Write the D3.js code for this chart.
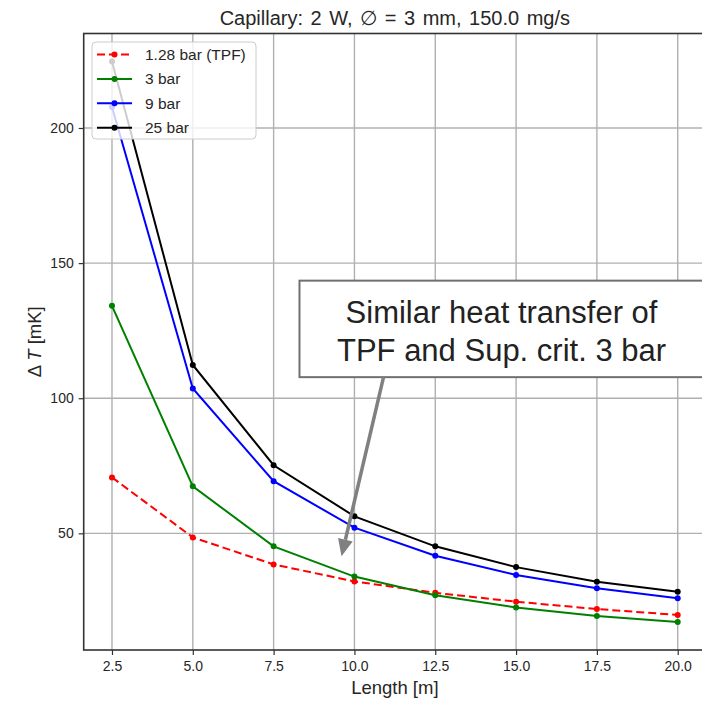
<!DOCTYPE html>
<html>
<head>
<meta charset="utf-8">
<script src="https://cdn.jsdelivr.net/npm/d3@7"></script>
<style>
    body { margin: 0; background: #fff; }
    svg { display: block; font-family: "Liberation Sans", Arial, sans-serif; }
    .tick text { fill: #262626; font-size: 14px; }
</style>
</head>
<body>
<div id="chart"></div>
<script>
// data
let lengths = [2.5, 5.0, 7.5, 10.0, 12.5, 15.0, 17.5, 20.0];
let tpf128 = [70.7, 48.5, 38.5, 32.2, 28.0, 24.7, 22.0, 19.8];
let bar3 = [134.2, 67.4, 45.2, 34.0, 27.1, 22.6, 19.4, 17.2];
let bar9 = [207.8, 103.6, 69.3, 52.1, 41.7, 34.6, 29.7, 26.0];
let bar25 = [224.6, 112.3, 75.2, 56.3, 45.2, 37.5, 32.1, 28.4];

let seriesNames = ["1.28 bar (TPF)", "3 bar", "9 bar", "25 bar"];
let seriesColors = ["#ff0000", "#008000", "#0000ff", "#000000"];
let seriesDash = ["8,4", null, null, null];

let xTicks = [2.5, 5.0, 7.5, 10.0, 12.5, 15.0, 17.5, 20.0];
let yTicks = [50, 100, 150, 200];

// annotation (data coordinates, like matplotlib annotate)
let noteLines = ["Similar heat transfer of", "TPF and Sup. crit. 3 bar"];
let notePoint = [9.6, 41.5];
let noteTail = [10.9, 107.8];
let noteBoxLeft = 8.3;
let noteBoxCenter = 14.55;

let series = seriesNames.map((name, i) => ({
    name: name,
    color: seriesColors[i],
    dash: seriesDash[i],
    values: [tpf128, bar3, bar9, bar25][i].map((v, j) => ({x: lengths[j], y: v}))
}));

let W = 702, H = 701;
let margin = {top: 33.5, left: 83.7, bottom: 51, right: -4};
let width = W - margin.left - margin.right;
let height = H - margin.top - margin.bottom;

let svg = d3.select("#chart").append("svg")
    .attr("width", W)
    .attr("height", H);

// matplotlib style 5% margins
let xMin = d3.min(lengths), xMax = d3.max(lengths);
let allY = [].concat(tpf128, bar3, bar9, bar25);
let yMin = d3.min(allY), yMax = d3.max(allY);
let xPad = (xMax - xMin) * 0.05, yPad = (yMax - yMin) * 0.05;

let x = d3.scaleLinear()
    .domain([xMin - xPad, xMax + xPad])
    .range([margin.left, margin.left + width]);

let y = d3.scaleLinear()
    .domain([yMin - yPad, yMax + yPad])
    .range([margin.top + height, margin.top]);

// grid
let grid = svg.append("g").attr("class", "grid");
grid.selectAll(".vgrid").data(xTicks).enter().append("line")
    .attr("x1", d => x(d)).attr("x2", d => x(d))
    .attr("y1", margin.top).attr("y2", margin.top + height)
    .attr("stroke", "#b0b0b0").attr("stroke-width", 1.4);
grid.selectAll(".hgrid").data(yTicks).enter().append("line")
    .attr("x1", margin.left).attr("x2", margin.left + width)
    .attr("y1", d => y(d)).attr("y2", d => y(d))
    .attr("stroke", "#b0b0b0").attr("stroke-width", 1.4);

// axes
let xAxis = d3.axisBottom(x).tickValues(xTicks).tickFormat(d3.format(".1f")).tickSize(5).tickPadding(6);
let yAxis = d3.axisLeft(y).tickValues(yTicks).tickFormat(d3.format("d")).tickSize(5).tickPadding(5);

svg.append("g")
    .attr("class", "x-axis axis")
    .attr("transform", `translate(0,${margin.top + height})`)
    .call(xAxis)
    .call(g => g.select(".domain").remove())
    .call(g => g.selectAll(".tick line").attr("stroke", "#333").attr("stroke-width", 1.2));

svg.append("g")
    .attr("class", "y-axis axis")
    .attr("transform", `translate(${margin.left},0)`)
    .call(yAxis)
    .call(g => g.select(".domain").remove())
    .call(g => g.selectAll(".tick line").attr("stroke", "#333").attr("stroke-width", 1.2));

// frame
svg.append("rect")
    .attr("x", margin.left).attr("y", margin.top)
    .attr("width", width).attr("height", height)
    .attr("fill", "none").attr("stroke", "#333").attr("stroke-width", 1.6);

// lines
let line = d3.line().x(d => x(d.x)).y(d => y(d.y));

let groups = svg.selectAll(".series").data(series).enter().append("g").attr("class", "series");
groups.append("path")
    .attr("d", d => line(d.values))
    .attr("fill", "none")
    .attr("stroke", d => d.color)
    .attr("stroke-width", 2)
    .attr("stroke-dasharray", d => d.dash);
groups.selectAll("circle").data(d => d.values.map(v => ({...v, color: d.color}))).enter().append("circle")
    .attr("cx", d => x(d.x)).attr("cy", d => y(d.y))
    .attr("r", 3)
    .attr("fill", d => d.color);

// legend
let legend = svg.append("g").attr("transform", "translate(92,42)");
legend.append("rect")
    .attr("width", 164).attr("height", 97)
    .attr("rx", 4)
    .attr("fill", "white").attr("fill-opacity", 0.8)
    .attr("stroke", "#cccccc").attr("stroke-width", 1);
let items = legend.selectAll(".item").data(series).enter().append("g")
    .attr("transform", (d, i) => `translate(0,${12.5 + i * 24.4})`);
items.append("line")
    .attr("x1", 5).attr("x2", 40)
    .attr("stroke", d => d.color).attr("stroke-width", 2)
    .attr("stroke-dasharray", d => d.dash);
items.append("circle").attr("cx", 22.5).attr("r", 3).attr("fill", d => d.color);
items.append("text")
    .attr("x", 53).attr("dy", "0.35em")
    .attr("font-size", 15.5).attr("fill", "#262626")
    .text(d => d.name);

// title and axis labels
svg.append("text")
    .attr("x", (x.range()[0] + x.range()[1]) / 2).attr("y", 25)
    .attr("text-anchor", "middle").attr("font-size", 20).attr("fill", "#262626")
    .attr("word-spacing", 2)
    .text("Capillary: 2 W, \u2205 = 3 mm, 150.0 mg/s");

svg.append("text")
    .attr("x", (x.range()[0] + x.range()[1]) / 2).attr("y", 694)
    .attr("text-anchor", "middle").attr("font-size", 18.5).attr("fill", "#262626")
    .text("Length [m]");

let yl = svg.append("text")
    .attr("transform", `translate(41,${(y.range()[0] + y.range()[1]) / 2})rotate(-90)`)
    .attr("text-anchor", "middle").attr("font-size", 18.5).attr("fill", "#262626");
yl.append("tspan").text("\u0394 ");
yl.append("tspan").attr("font-style", "italic").text("T");
yl.append("tspan").text(" [mK]");

// annotation box + arrow
let note = svg.append("g").attr("class", "note");
let boxTop = y(noteTail[1]) - 96.5;
note.append("rect")
    .attr("x", x(noteBoxLeft)).attr("y", boxTop)
    .attr("width", 420).attr("height", 96.5)
    .attr("fill", "white").attr("stroke", "#707070").attr("stroke-width", 2);
note.selectAll(".nline").data(noteLines).enter().append("text")
    .attr("x", x(noteBoxCenter))
    .attr("y", (d, i) => boxTop + 42.5 + i * 37.5)
    .attr("text-anchor", "middle").attr("font-size", 31).attr("fill", "#222")
    .text(d => d);

let ax0 = x(noteTail[0]), ay0 = y(noteTail[1]);
let ax1 = x(notePoint[0]), ay1 = y(notePoint[1]);
let ang = Math.atan2(ay1 - ay0, ax1 - ax0);
let headLen = 17, headW = 7.5;
let bx = ax1 - headLen * Math.cos(ang), by = ay1 - headLen * Math.sin(ang);
note.append("line")
    .attr("x1", ax0).attr("y1", ay0).attr("x2", bx).attr("y2", by)
    .attr("stroke", "#808080").attr("stroke-width", 3.5);
note.append("path")
    .attr("d", `M${ax1},${ay1}L${bx - headW * Math.sin(ang)},${by + headW * Math.cos(ang)}L${bx + headW * Math.sin(ang)},${by - headW * Math.cos(ang)}Z`)
    .attr("fill", "#808080");
</script>
</body>
</html>
